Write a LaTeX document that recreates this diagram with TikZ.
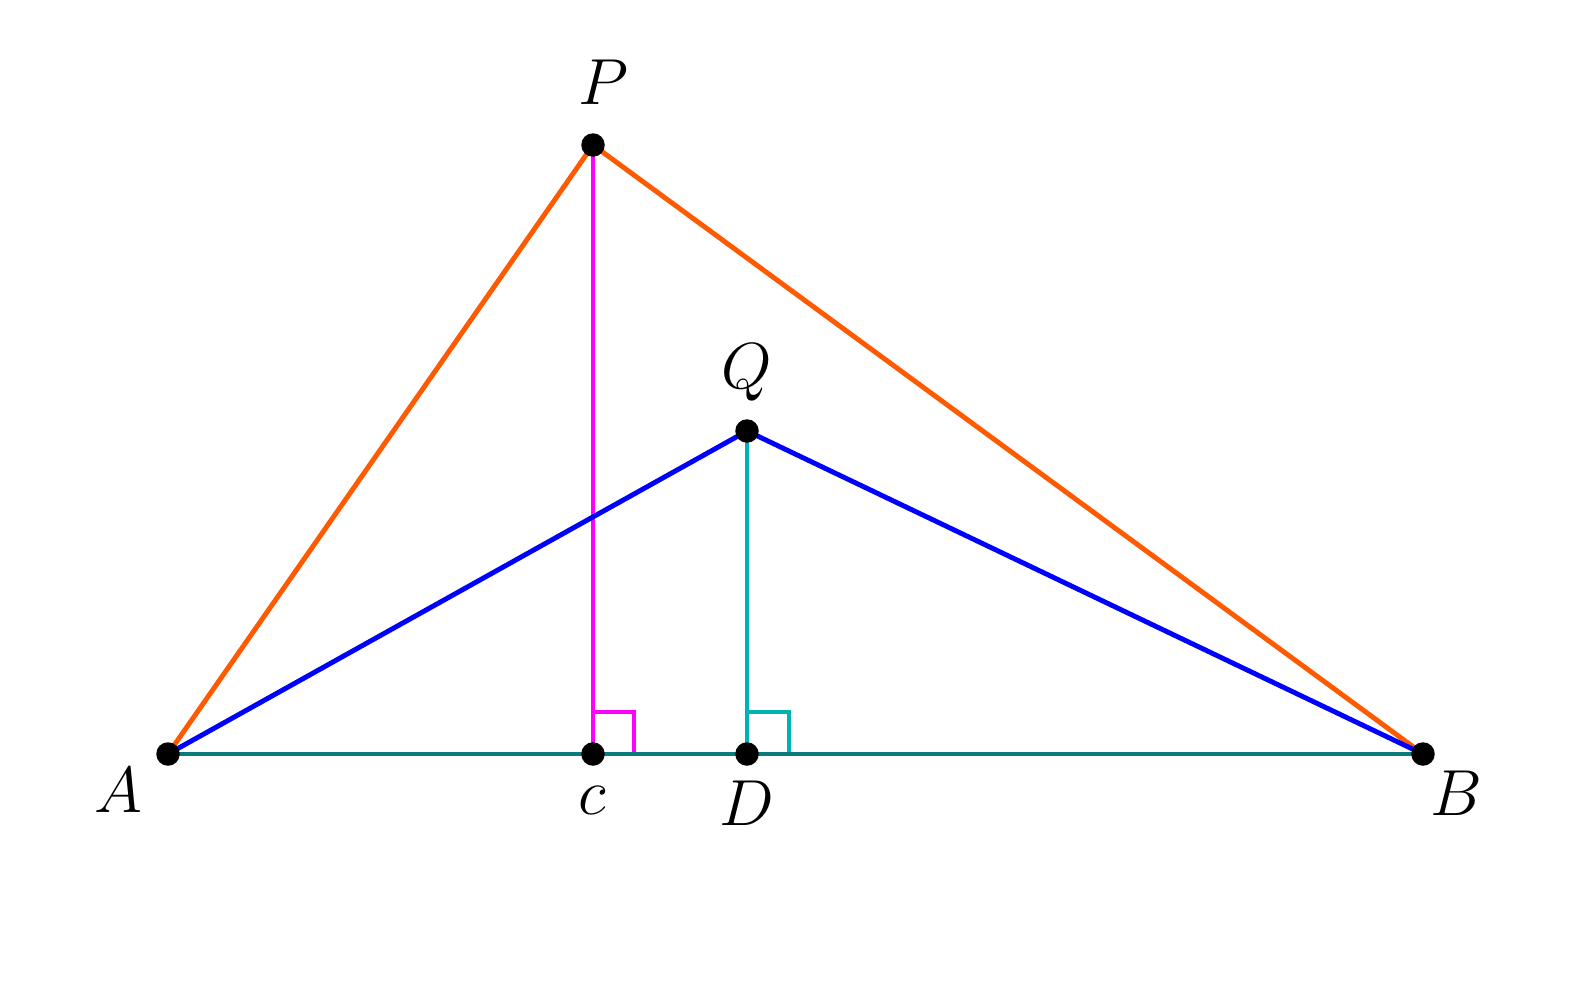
\documentclass[tikz,border=0pt]{standalone}
\begin{document}
\begin{tikzpicture}[x=0.02cm,y=-0.02cm,
  seg/.style={line width=2.8pt},
  dot/.style={circle,fill=black,inner sep=0pt,minimum size=0.47cm},
  lab/.style={inner sep=0pt,font=\Huge,scale=1.49}]
\definecolor{orng}{RGB}{255,90,0}
\definecolor{mag}{RGB}{255,0,255}
\definecolor{blu}{RGB}{0,0,255}
\definecolor{cyn}{RGB}{0,178,178}
\definecolor{tealb}{RGB}{10,122,122}
\useasboundingbox (0,0) rectangle (1572,1001);
\coordinate (A) at (168,754);
\coordinate (B) at (1423,754);
\coordinate (P) at (593,145);
\coordinate (Q) at (747,431);
\coordinate (C) at (593,754);
\coordinate (D) at (747,754);
% right angle marks
\draw[seg,mag] (593,712) -- (634,712) -- (634,754);
\draw[seg,cyn] (747,712) -- (789,712) -- (789,754);
\draw[seg,tealb] (A) -- (B);
\draw[seg,orng] (A) -- (P) -- (B);
\draw[seg,mag] (P) -- (C);
\draw[seg,cyn] (Q) -- (D);
\draw[seg,blu] (A) -- (Q) -- (B);
\foreach \p in {A,B,P,Q,C,D} \node[dot] (d\p) at (\p) {};
\node[lab] (lP) at (603,82) {$P$};
\node[lab] (lQ) at (747,373) {$Q$};
\node[lab] (lA) at (118,790) {$A$};
\node[lab] (lB) at (1456,793) {$B$};
\node[lab] (lC) at (592,800) {$c$};
\node[lab] (lD) at (747,803) {$D$};
\end{tikzpicture}
\end{document}
